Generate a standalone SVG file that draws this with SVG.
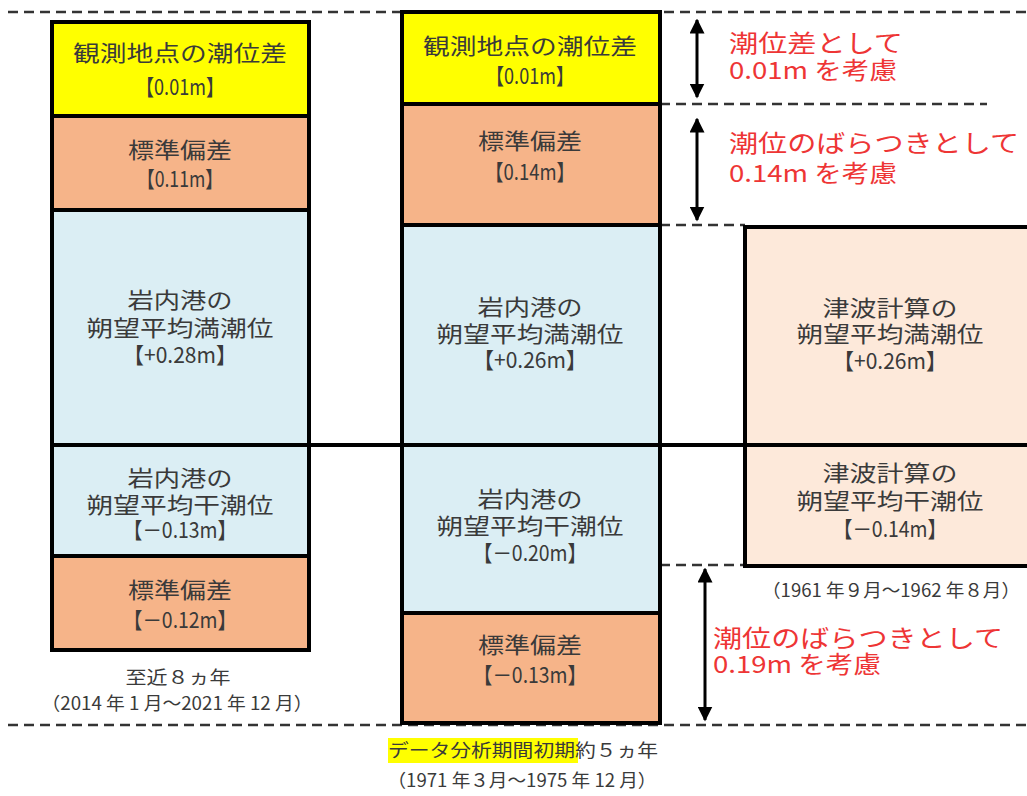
<svg xmlns="http://www.w3.org/2000/svg" width="1027" height="796" viewBox="0 0 1027 796">
<style>
.cell{stroke:#000;stroke-width:4}
.y{fill:#FFFF00}.o{fill:#F6B489}.b{fill:#DBEEF4}.p{fill:#FDE9DA}
text{font-family:"Noto Sans CJK JP","Liberation Sans",sans-serif}
.t{font-size:22px;fill:#3a3a3a;text-anchor:middle}
.c{font-size:18px;fill:#3a3a3a;text-anchor:middle}
.r{font-size:24px;fill:#EE3535}
.dash{stroke:#333;stroke-width:2.5;stroke-dasharray:10 6;fill:none}
.arr{stroke:#000;stroke-width:3;fill:none;marker-start:url(#ah);marker-end:url(#ah)}
</style>
<defs>
<marker id="ah" viewBox="0 0 10 10" refX="9" refY="5" markerWidth="5" markerHeight="5" orient="auto-start-reverse" markerUnits="strokeWidth">
<path d="M0,0 L10,5 L0,10 z" fill="#000"/>
</marker>
</defs>
<rect width="1027" height="796" fill="#fff"/>
<g id="connectors">
<line class="dash" x1="8" y1="12" x2="1027" y2="12"/>
<line class="dash" x1="8" y1="725" x2="1027" y2="725"/>
<line class="dash" x1="660" y1="104" x2="987" y2="104"/>
<line class="dash" x1="660" y1="225" x2="745" y2="225"/>
<line class="dash" x1="660" y1="565" x2="745" y2="565"/>
<line x1="52" y1="445" x2="1027" y2="445" stroke="#000" stroke-width="4"/>
<line class="arr" x1="697" y1="20" x2="697" y2="97"/>
<line class="arr" x1="697" y1="119" x2="697" y2="220"/>
<line class="arr" x1="705" y1="569" x2="705" y2="720"/>
</g>
<g id="left-column">
<rect class="cell y" x="52" y="22" width="257" height="94"/>
<rect class="cell o" x="52" y="116" width="257" height="94"/>
<rect class="cell b" x="52" y="210" width="257" height="235"/>
<rect class="cell b" x="52" y="445" width="257" height="111"/>
<rect class="cell o" x="52" y="556" width="257" height="94"/>
<text class="t" x="180" y="61" textLength="214" lengthAdjust="spacingAndGlyphs">観測地点の潮位差</text>
<text class="t" x="180" y="95" textLength="88" lengthAdjust="spacingAndGlyphs">【0.01m】</text>
<text class="t" x="180" y="158" textLength="104" lengthAdjust="spacingAndGlyphs">標準偏差</text>
<text class="t" x="180" y="187" textLength="86" lengthAdjust="spacingAndGlyphs">【0.11m】</text>
<text class="t" x="180" y="308" textLength="105" lengthAdjust="spacingAndGlyphs">岩内港の</text>
<text class="t" x="180" y="336" textLength="187" lengthAdjust="spacingAndGlyphs">朔望平均満潮位</text>
<text class="t" x="180" y="363" textLength="114" lengthAdjust="spacingAndGlyphs">【+0.28m】</text>
<text class="t" x="180" y="486" textLength="105" lengthAdjust="spacingAndGlyphs">岩内港の</text>
<text class="t" x="180" y="513" textLength="187" lengthAdjust="spacingAndGlyphs">朔望平均干潮位</text>
<text class="t" x="180" y="538" textLength="114" lengthAdjust="spacingAndGlyphs">【－0.13m】</text>
<text class="t" x="180" y="598" textLength="104" lengthAdjust="spacingAndGlyphs">標準偏差</text>
<text class="t" x="180" y="628" textLength="114" lengthAdjust="spacingAndGlyphs">【－0.12m】</text>
<text class="c" x="178" y="684" textLength="105" lengthAdjust="spacingAndGlyphs">至近８ヵ年</text>
<text class="c" x="177" y="710" textLength="271" lengthAdjust="spacingAndGlyphs">（2014 年 1 月～2021 年 12 月）</text>
</g>
<g id="middle-column">
<rect class="cell y" x="402" y="12" width="258" height="92"/>
<rect class="cell o" x="402" y="104" width="258" height="121"/>
<rect class="cell b" x="402" y="225" width="258" height="220"/>
<rect class="cell b" x="402" y="445" width="258" height="168"/>
<rect class="cell o" x="402" y="613" width="258" height="110"/>
<text class="t" x="530" y="54" textLength="214" lengthAdjust="spacingAndGlyphs">観測地点の潮位差</text>
<text class="t" x="530" y="84" textLength="88" lengthAdjust="spacingAndGlyphs">【0.01m】</text>
<text class="t" x="530" y="149" textLength="104" lengthAdjust="spacingAndGlyphs">標準偏差</text>
<text class="t" x="530" y="180" textLength="90" lengthAdjust="spacingAndGlyphs">【0.14m】</text>
<text class="t" x="530" y="315" textLength="105" lengthAdjust="spacingAndGlyphs">岩内港の</text>
<text class="t" x="530" y="342" textLength="187" lengthAdjust="spacingAndGlyphs">朔望平均満潮位</text>
<text class="t" x="530" y="368" textLength="114" lengthAdjust="spacingAndGlyphs">【+0.26m】</text>
<text class="t" x="530" y="507" textLength="105" lengthAdjust="spacingAndGlyphs">岩内港の</text>
<text class="t" x="530" y="534" textLength="187" lengthAdjust="spacingAndGlyphs">朔望平均干潮位</text>
<text class="t" x="530" y="561" textLength="114" lengthAdjust="spacingAndGlyphs">【－0.20m】</text>
<text class="t" x="530" y="653" textLength="104" lengthAdjust="spacingAndGlyphs">標準偏差</text>
<text class="t" x="530" y="683" textLength="114" lengthAdjust="spacingAndGlyphs">【－0.13m】</text>
<rect x="388" y="738" width="190" height="25" fill="#FFFF00"/>
<text class="c" x="523" y="757" textLength="270" lengthAdjust="spacingAndGlyphs">データ分析期間初期約５ヵ年</text>
<text class="c" x="522" y="787" textLength="269" lengthAdjust="spacingAndGlyphs">（1971 年３月～1975 年 12 月）</text>
</g>
<g id="right-column">
<rect class="cell p" x="745" y="227" width="300" height="218"/>
<rect class="cell p" x="745" y="445" width="300" height="121"/>
<text class="t" x="890" y="316" textLength="135" lengthAdjust="spacingAndGlyphs">津波計算の</text>
<text class="t" x="890" y="342" textLength="187" lengthAdjust="spacingAndGlyphs">朔望平均満潮位</text>
<text class="t" x="890" y="369" textLength="114" lengthAdjust="spacingAndGlyphs">【+0.26m】</text>
<text class="t" x="890" y="481" textLength="135" lengthAdjust="spacingAndGlyphs">津波計算の</text>
<text class="t" x="890" y="509" textLength="187" lengthAdjust="spacingAndGlyphs">朔望平均干潮位</text>
<text class="t" x="890" y="537" textLength="114" lengthAdjust="spacingAndGlyphs">【－0.14m】</text>
<text class="c" x="891" y="597" textLength="258" lengthAdjust="spacingAndGlyphs">（1961 年９月～1962 年８月）</text>
</g>
<g id="annotations">
<text class="r" x="729" y="52" textLength="174" lengthAdjust="spacingAndGlyphs">潮位差として</text>
<text class="r" x="729" y="79" textLength="168" lengthAdjust="spacingAndGlyphs">0.01m を考慮</text>
<text class="r" x="729" y="152" textLength="290" lengthAdjust="spacingAndGlyphs">潮位のばらつきとして</text>
<text class="r" x="729" y="182" textLength="168" lengthAdjust="spacingAndGlyphs">0.14m を考慮</text>
<text class="r" x="713" y="647" textLength="290" lengthAdjust="spacingAndGlyphs">潮位のばらつきとして</text>
<text class="r" x="713" y="673" textLength="168" lengthAdjust="spacingAndGlyphs">0.19m を考慮</text>
</g>
</svg>
